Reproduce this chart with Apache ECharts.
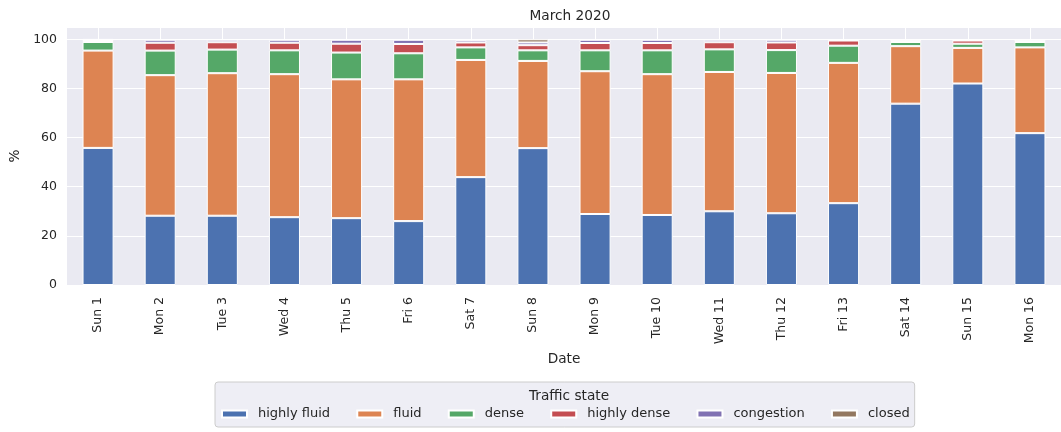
<!DOCTYPE html>
<html>
<head>
<meta charset="utf-8">
<script src="https://cdn.jsdelivr.net/npm/echarts@6/dist/echarts.min.js"></script>
<style>html,body{margin:0;padding:0;background:#fff}#c{width:1061px;height:432px}</style>
</head>
<body>
<div id="c"></div>
<script>
const categories = ['Sun 1','Mon 2','Tue 3','Wed 4','Thu 5','Fri 6','Sat 7','Sun 8','Mon 9','Tue 10','Wed 11','Thu 12','Fri 13','Sat 14','Sun 15','Mon 16'];
const highlyFluid = [55.8, 28.2, 28.2, 27.6, 27.2, 26.0, 43.9, 55.7, 28.9, 28.5, 30.0, 29.2, 33.3, 73.8, 82.0, 61.8];
const fluid       = [39.6, 57.2, 58.0, 58.2, 56.5, 57.7, 47.7, 35.5, 58.1, 57.3, 56.7, 57.1, 57.1, 23.4, 14.5, 34.9];
const dense       = [3.5, 10.0, 9.6, 9.7, 10.9, 10.6, 5.1, 4.3, 8.5, 9.7, 9.2, 9.3, 7.0, 1.7, 1.7, 2.2];
const highlyDense = [0.8, 3.2, 3.0, 3.1, 3.6, 3.8, 2.0, 2.1, 3.0, 3.0, 2.9, 3.1, 2.1, 0.7, 1.3, 0.7];
const congestion  = [0.2, 1.2, 1.0, 1.2, 1.6, 1.7, 0.9, 1.1, 1.3, 1.3, 1.0, 1.1, 0.3, 0.2, 0.3, 0.2];
const closed      = [0.1, 0.2, 0.2, 0.2, 0.2, 0.2, 0.4, 1.3, 0.2, 0.2, 0.2, 0.2, 0.2, 0.2, 0.2, 0.2];
const yTicks = [0, 20, 40, 60, 80, 100];

const seriesDefs = [
  ['highly fluid', highlyFluid, '#4C72B0'],
  ['fluid', fluid, '#DD8452'],
  ['dense', dense, '#55A868'],
  ['highly dense', highlyDense, '#C44E52'],
  ['congestion', congestion, '#8172B3'],
  ['closed', closed, '#937860']
];
const FONT = 'DejaVu Sans';
const TXT = '#262626';
const chart = echarts.init(document.getElementById('c'), null, {renderer: 'canvas'});
chart.setOption({
  animation: false,
  textStyle: {fontFamily: FONT, color: TXT},
  title: [
    {text: 'March 2020', left: 565, top: 4, textAlign: 'center',
     textStyle: {fontFamily: FONT, fontSize: 13.7, fontWeight: 'normal', color: TXT}},
    {text: 'Traffic state', left: 564, top: 384, textAlign: 'center',
     textStyle: {fontFamily: FONT, fontSize: 13.7, fontWeight: 'normal', color: TXT}}
  ],
  legend: {
    left: 215, top: 382,
    padding: [25.5, 5, 6.5, 6],
    backgroundColor: '#EEEEF5',
    borderColor: '#CCCCCC', borderWidth: 1, borderRadius: 3,
    itemWidth: 25, itemHeight: 7, itemGap: 26.2,
    icon: 'rect',
    textStyle: {fontFamily: FONT, fontSize: 13, color: TXT, padding: [0, 0, 0, 6]},
    data: seriesDefs.map(d => d[0])
  },
  grid: {left: 67, right: -2, top: 27, bottom: 147, show: true, backgroundColor: '#EAEAF2', borderWidth: 0},
  xAxis: {
    type: 'category', data: categories, boundaryGap: true,
    axisLine: {show: false}, axisTick: {show: false, alignWithLabel: true},
    splitLine: {show: true, alignWithLabel: true, lineStyle: {color: '#FFFFFF', width: 1}},
    axisLabel: {rotate: 90, margin: 12, fontFamily: FONT, fontSize: 12.5, color: TXT},
    name: 'Date', nameLocation: 'middle', nameGap: 64,
    nameTextStyle: {fontFamily: FONT, fontSize: 13.7, color: TXT}
  },
  yAxis: {
    type: 'value', min: 0, max: 105, interval: 20,
    axisLine: {show: false}, axisTick: {show: false},
    axisLabel: {margin: 10, fontFamily: FONT, fontSize: 12.5, color: TXT, showMaxLabel: false,
      formatter: v => yTicks.includes(v) ? String(v) : ''},
    splitLine: {show: true, lineStyle: {color: '#FFFFFF', width: 1}},
    name: '%', nameLocation: 'middle', nameGap: 44,
    nameTextStyle: {fontFamily: FONT, fontSize: 13.7, color: TXT}
  },
  series: seriesDefs.map(d => ({
    name: d[0], type: 'bar', stack: 'total', data: d[1],
    barWidth: '50%',
    itemStyle: {color: d[2], borderColor: '#FFFFFF', borderWidth: 1}
  }))
});
</script>
</body>
</html>
